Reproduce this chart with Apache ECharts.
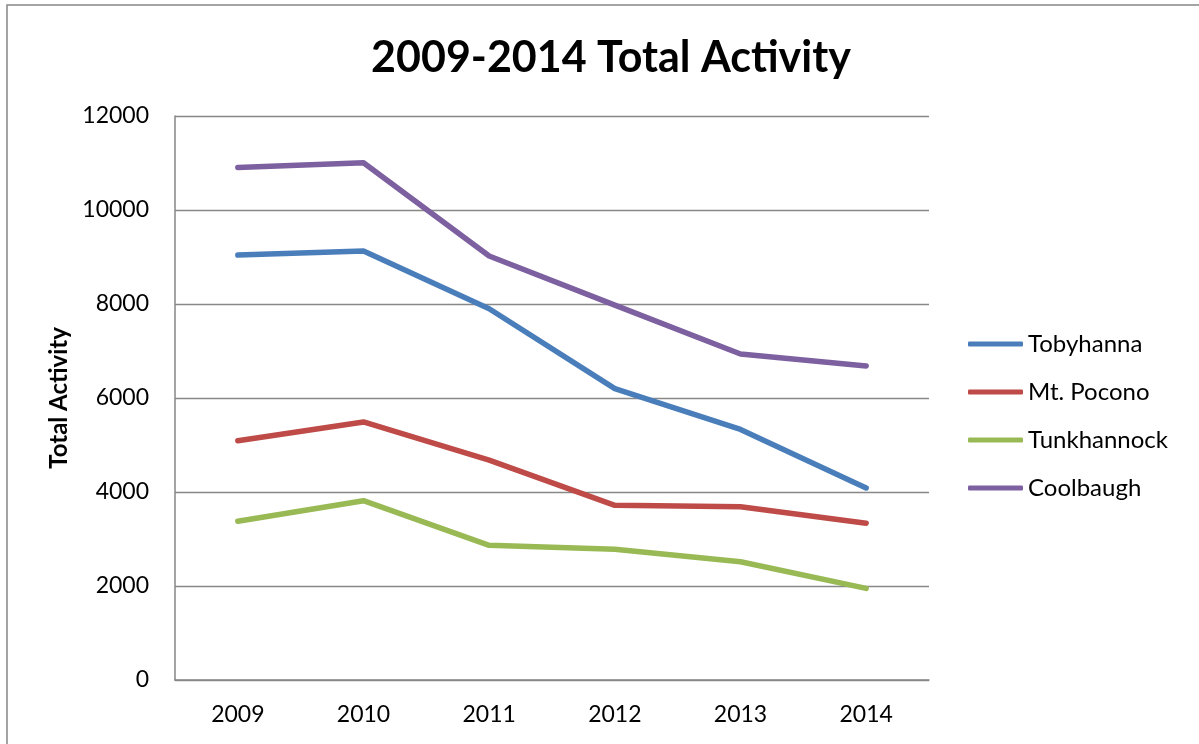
<!DOCTYPE html>
<html>
<head>
<meta charset="utf-8">
<script src="https://cdn.jsdelivr.net/npm/echarts@6/dist/echarts.min.js"></script>
<style>
html,body{margin:0;padding:0;background:#fff;}
#chart{width:1199px;height:744px;}
</style>
</head>
<body>
<div id="chart"></div>
<script>
const categories = ['2009', '2010', '2011', '2012', '2013', '2014'];
const tobyhanna = [9040, 9130, 7900, 6200, 5330, 4085];
const mtPocono = [5090, 5490, 4680, 3717, 3688, 3335];
const tunkhannock = [3376, 3815, 2866, 2780, 2515, 1950];
const coolbaugh = [10905, 11005, 9020, 7975, 6936, 6681];
const seriesNames = ['Tobyhanna', 'Mt. Pocono', 'Tunkhannock', 'Coolbaugh'];
const seriesData = [tobyhanna, mtPocono, tunkhannock, coolbaugh];
const colors = ['#4a7ebb', '#be4b48', '#98b954', '#7d60a0'];

const FONT = 'Lato';
const chart = echarts.init(document.getElementById('chart'), null, {renderer: 'canvas'});
chart.setOption({
  animation: false,
  backgroundColor: '#fff',
  title: {
    text: '2009-2014 Total Activity',
    left: 606, top: 32, textAlign: 'center',
    textStyle: {fontFamily: FONT, fontWeight: 'bold', fontSize: 43, color: '#000'}
  },
  graphic: [{
    type: 'rect', silent: true,
    shape: {x: 7, y: 5, width: 1250, height: 800},
    style: {fill: 'none', stroke: '#868686', lineWidth: 1.5}
  }],
  legend: {
    orient: 'vertical',
    left: 968, top: 332,
    padding: 0,
    icon: 'roundRect',
    itemWidth: 55, itemHeight: 5, itemGap: 24,
    textStyle: {fontFamily: FONT, fontSize: 24, color: '#000'},
    data: seriesNames
  },
  grid: {left: 175, right: 270, top: 116, bottom: 64, containLabel: false},
  xAxis: {
    type: 'category',
    data: categories,
    boundaryGap: true,
    axisLine: {lineStyle: {color: '#868686', width: 1.5}},
    axisTick: {show: false},
    axisLabel: {fontFamily: FONT, fontSize: 23, color: '#000', margin: 23}
  },
  yAxis: {
    type: 'value',
    min: 0, max: 12000, interval: 2000,
    name: 'Total Activity',
    nameLocation: 'middle',
    nameGap: 104,
    nameTextStyle: {fontFamily: FONT, fontWeight: 'bold', fontSize: 24, color: '#000'},
    axisLine: {show: true, lineStyle: {color: '#868686', width: 1.5}},
    axisTick: {show: false},
    splitLine: {lineStyle: {color: '#888888', width: 1.4}},
    axisLabel: {fontFamily: FONT, fontSize: 23, color: '#000', margin: 26,
      formatter: v => String(v)}
  },
  series: seriesNames.map((n, i) => ({
    name: n,
    type: 'line',
    data: seriesData[i],
    symbol: 'none',
    color: colors[i],
    lineStyle: {width: 5.5, color: colors[i], cap: 'round', join: 'round'}
  }))
});
</script>
</body>
</html>
